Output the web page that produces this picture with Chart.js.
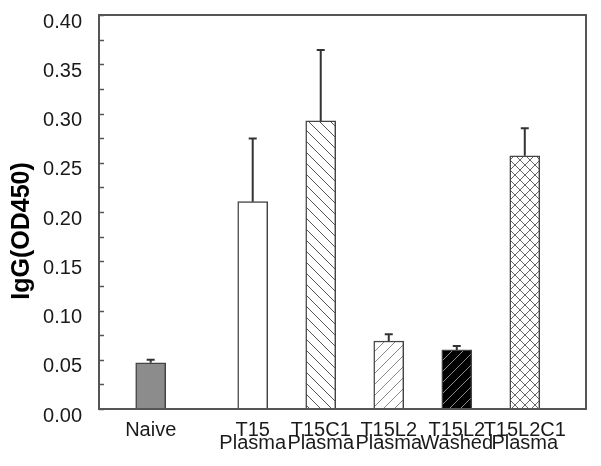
<!DOCTYPE html>
<html>
<head>
<meta charset="utf-8">
<script src="https://cdn.jsdelivr.net/npm/chart.js@4"></script>
<style>
  html, body { margin: 0; padding: 0; background: #fff; }
  #wrap { width: 601px; height: 466px; }
</style>
</head>
<body>
<div id="wrap"><canvas id="iggChart" width="601" height="466"></canvas></div>
<script>
// groups along the x axis (a gap sits between Naive and the treated groups)
var groupLabels = [["Naive"], ["T15", "Plasma"], ["T15C1", "Plasma"], ["T15L2", "Plasma"], ["T15L2", "Washed"], ["T15L2C1", "Plasma"]];
var groupSlots = [0, 1.5, 2.5, 3.5, 4.5, 5.5];
var iggMeans = [0.047, 0.2105, 0.2925, 0.069, 0.060, 0.257];
var iggErrors = [0.003, 0.064, 0.072, 0.007, 0.004, 0.028];
var yTicks = [0, 0.4, 0.025];
var yTitle = "IgG(OD450)";

function hatch(bg, fg, lw, size, dirs) {
    var c = document.createElement("canvas");
    c.width = size; c.height = size;
    var g = c.getContext("2d");
    g.fillStyle = bg;
    g.fillRect(0, 0, size, size);
    g.strokeStyle = fg;
    g.lineWidth = lw;
    dirs.forEach(function (d) {
        g.beginPath();
        if (d === "/") {
            g.moveTo(-1, size + 1); g.lineTo(size + 1, -1);
            g.moveTo(-1, 1); g.lineTo(1, -1);
            g.moveTo(size - 1, size + 1); g.lineTo(size + 1, size - 1);
        } else {
            g.moveTo(-1, -1); g.lineTo(size + 1, size + 1);
            g.moveTo(size - 1, -1); g.lineTo(size + 1, 1);
            g.moveTo(-1, size - 1); g.lineTo(1, size + 1);
        }
        g.stroke();
    });
    return g.createPattern(c, "repeat");
}

var ctx = document.getElementById("iggChart").getContext("2d");

var fills = [
    "#8c8c8c",
    "#ffffff",
    hatch("#ffffff", "#555555", 1, 11, ["\\"]),
    hatch("#ffffff", "#888888", 1, 11, ["/"]),
    hatch("#000000", "#8a8a8a", 1, 11, ["/"]),
    hatch("#ffffff", "#666666", 1, 10, ["/", "\\"])
];

var frameAndErrors = {
    id: "frameAndErrors",
    afterDatasetsDraw: function (chart) {
        var c = chart.ctx, a = chart.chartArea;
        var ys = chart.scales.y;
        var meta = chart.getDatasetMeta(0);
        c.save();
        // error bars (upper only)
        c.strokeStyle = "#333333";
        c.lineWidth = 2;
        meta.data.forEach(function (bar, i) {
            var top = ys.getPixelForValue(iggMeans[i] + iggErrors[i]);
            c.beginPath();
            c.moveTo(bar.x, bar.y);
            c.lineTo(bar.x, top);
            c.moveTo(bar.x - 4, top);
            c.lineTo(bar.x + 4, top);
            c.stroke();
        });
        // inward tick marks
        c.strokeStyle = "#555555";
        c.lineWidth = 1.5;
        for (var v = yTicks[0]; v <= yTicks[1] + 1e-9; v += yTicks[2]) {
            var py = Math.round(ys.getPixelForValue(v)) + 0.5;
            c.beginPath();
            c.moveTo(a.left, py);
            c.lineTo(a.left + 5, py);
            c.stroke();
        }
        // box
        c.lineWidth = 2;
        c.strokeRect(a.left, a.top, a.right - a.left, a.bottom - a.top);

        // y axis title, sits a bit below the axis centre in the original
        c.translate(29, 231);
        c.rotate(-Math.PI / 2);
        c.fillStyle = "#000000";
        c.font = "bold 25px 'Liberation Sans', Arial, sans-serif";
        c.textAlign = "center";
        c.textBaseline = "alphabetic";
        c.fillText(yTitle, 0, 0);
        c.restore();
    }
};

new Chart(ctx, {
    type: "bar",
    data: {
        datasets: [{
            data: groupSlots.map(function (s, i) { return { x: s, y: iggMeans[i] }; }),
            backgroundColor: fills,
            borderColor: "#444444",
            borderWidth: 1.5,
            barThickness: 30
        }]
    },
    options: {
        responsive: false,
        animation: false,
        devicePixelRatio: 1,
        layout: { padding: { top: 15, right: 15, left: 0, bottom: 0 } },
        plugins: { legend: { display: false }, tooltip: { enabled: false } },
        scales: {
            x: {
                type: "linear",
                offset: false,
                min: -0.76,
                max: 6.4,
                grid: { display: false },
                border: { display: false },
                afterBuildTicks: function (scale) {
                    scale.ticks = groupSlots.map(function (s) { return { value: s }; });
                },
                afterFit: function (scale) {
                    scale.height = 57;
                    scale.paddingLeft = 0;
                    scale.paddingRight = 0;
                },
                ticks: {
                    autoSkip: false,
                    maxRotation: 0,
                    padding: 7,
                    color: "#1a1a1a",
                    font: { family: "'Liberation Sans', Arial, sans-serif", size: 20, lineHeight: 0.64 },
                    callback: function (value, index) { return groupLabels[index]; }
                }
            },
            y: {
                min: yTicks[0],
                max: yTicks[1],
                grid: { display: false, drawTicks: false },
                border: { display: false },
                afterFit: function (scale) {
                    scale.width = 99;
                    scale.paddingTop = 0;
                    scale.paddingBottom = 0;
                },
                ticks: {
                    stepSize: yTicks[2],
                    padding: 17,
                    labelOffset: 7,
                    color: "#1a1a1a",
                    font: { family: "'Liberation Sans', Arial, sans-serif", size: 20 },
                    callback: function (value) {
                        return Math.round(value * 1000) % 50 === 0 ? value.toFixed(2) : "";
                    }
                }
            }
        }
    },
    plugins: [frameAndErrors]
});
</script>
</body>
</html>
